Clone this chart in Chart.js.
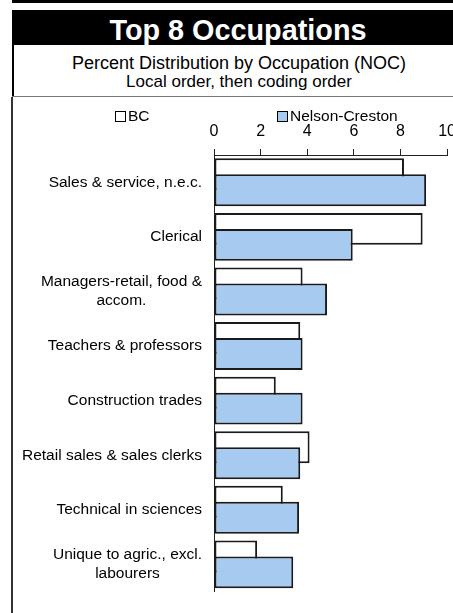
<!DOCTYPE html>
<html>
<head>
<meta charset="utf-8">
<script src="https://cdn.jsdelivr.net/npm/chart.js@4.4.1/dist/chart.umd.min.js"></script>
<style>
html, body { margin: 0; padding: 0; background: #fff; overflow: hidden; width: 453px; height: 613px; }
body { position: relative; font-family: "Liberation Sans", Arial, sans-serif; color: #000; }
#topbar { position: absolute; left: 12px; top: 0; width: 480px; height: 3px; background: #000; }
#titlebox { position: absolute; left: 12px; top: 10px; width: 452px; height: 35px; background: #000; color: #fff;
  font-weight: bold; font-size: 28.8px; line-height: 40px; text-align: center; overflow: hidden; white-space: nowrap; }
#sub { position: absolute; left: 12px; top: 45px; width: 452px; height: 51px; border-left: 2px solid #000; box-sizing: border-box; }
#sub1 { position: absolute; left: 0; right: 0; top: 8px; font-size: 18px; line-height: 20px; text-align: center; white-space: nowrap; }
#sub2 { position: absolute; left: 0; right: 0; top: 27px; font-size: 17px; line-height: 20px; text-align: center; white-space: nowrap; }
#hline { position: absolute; left: 12px; top: 96px; width: 480px; height: 1px; background: #777; }
#frame { position: absolute; left: 11px; top: 97px; width: 2px; height: 520px; background: #333; }
#legend { position: absolute; left: 0; top: 107px; width: 464px; height: 20px; font-size: 15.5px; }
.lg { position: absolute; top: 0; white-space: nowrap; line-height: 18px; }
.lg i { display: inline-block; width: 9px; height: 9px; border: 1px solid #000; vertical-align: -1px; margin-right: 2px; }
#chartwrap { position: absolute; left: 0; top: 97px; width: 464px; height: 516px; }
</style>
</head>
<body>
<div id="topbar"></div>
<div id="titlebox">Top 8 Occupations</div>
<div id="sub">
  <div id="sub1">Percent Distribution by Occupation (NOC)</div>
  <div id="sub2">Local order, then coding order</div>
</div>
<div id="hline"></div>
<div id="frame"></div>
<div id="chartwrap"><canvas id="c" width="464" height="516"></canvas></div>
<div id="legend"></div>
<script>
// ---- data ----
const categories = [
  "Sales & service, n.e.c.",
  "Clerical",
  ["Managers-retail, food &", "accom."],
  "Teachers & professors",
  "Construction trades",
  "Retail sales & sales clerks",
  "Technical in sciences",
  ["Unique to agric., excl.", "labourers"]
];
const seriesNames = ["BC", "Nelson-Creston"];
const bcValues = [8.15, 8.95, 3.8, 3.7, 2.65, 4.1, 2.95, 1.85];
const ncValues = [9.1, 5.95, 4.85, 3.8, 3.8, 3.7, 3.65, 3.4];
const xTicks = [0, 2, 4, 6, 8, 10];
const seriesColors = ["#ffffff", "#a6caf0"];

// ---- legend (HTML) ----
const legendX = [115, 277];
const legend = document.getElementById('legend');
seriesNames.forEach((name, i) => {
  const d = document.createElement('span');
  d.className = 'lg';
  d.style.left = legendX[i] + 'px';
  const b = document.createElement('i');
  b.style.background = seriesColors[i];
  d.appendChild(b);
  d.appendChild(document.createTextNode(name));
  legend.appendChild(d);
});

// ---- plugins ----
const drawOrder = {
  id: 'drawOrder',
  beforeDatasetsDraw(chart) {
    const metas = chart.getSortedVisibleDatasetMetas().slice().sort((a, b) => a.index - b.index);
    metas.forEach(m => {
      if (typeof chart._drawDataset === 'function') chart._drawDataset(m);
      else m.controller.draw();
    });
    return false;
  }
};
const centerMultiline = {
  id: 'centerMultiline',
  beforeDraw(chart) {
    const scale = chart.scales.y;
    if (!scale || typeof scale.getLabelItems !== 'function') return;
    const items = scale.getLabelItems();
    const ctx = chart.ctx;
    items.forEach(item => {
      if (Array.isArray(item.label) && !item._centered) {
        ctx.save();
        ctx.font = item.font.string;
        const w = Math.max(...item.label.map(l => ctx.measureText(l).width));
        ctx.restore();
        item.options.textAlign = 'center';
        item.options.translation = [item.options.translation[0] - w / 2, item.options.translation[1]];
        item._centered = true;
      }
    });
  }
};

Chart.defaults.font.family = '"Liberation Sans", Arial, sans-serif';
Chart.defaults.color = '#000';

new Chart(document.getElementById('c'), {
  type: 'bar',
  data: {
    labels: categories,
    datasets: [
      { label: seriesNames[0], data: bcValues, backgroundColor: seriesColors[0], borderColor: '#1a1a1a', borderWidth: 2, borderSkipped: false },
      { label: seriesNames[1], data: ncValues, backgroundColor: seriesColors[1], borderColor: '#1a1a1a', borderWidth: 2, borderSkipped: false }
    ]
  },
  options: {
    indexAxis: 'y',
    responsive: false,
    devicePixelRatio: 1,
    animation: false,
    categoryPercentage: 0.585,
    barPercentage: 2,
    layout: { padding: { left: 0, right: 15, top: 0, bottom: 2 } },
    plugins: { legend: { display: false }, title: { display: false }, tooltip: { enabled: false } },
    scales: {
      x: {
        position: 'top',
        min: 0, max: 10,
        afterBuildTicks: (scale) => { scale.ticks = xTicks.map(v => ({ value: v })); },
        afterFit: (scale) => { scale.height = 58; },
        ticks: { font: { size: 16 }, padding: 8, color: '#000', maxRotation: 0 },
        grid: { drawOnChartArea: false, drawTicks: true, tickLength: 6, color: '#222', lineWidth: 1 },
        border: { display: true, color: '#222', width: 1 }
      },
      y: {
        afterFit: (scale) => { scale.width = 214; },
        ticks: { font: { size: 15.5 }, padding: 12, color: '#000', autoSkip: false },
        grid: { display: false, drawTicks: false },
        border: { display: true, color: '#222', width: 1 }
      }
    }
  },
  plugins: [drawOrder, centerMultiline]
});
</script>
</body>
</html>
